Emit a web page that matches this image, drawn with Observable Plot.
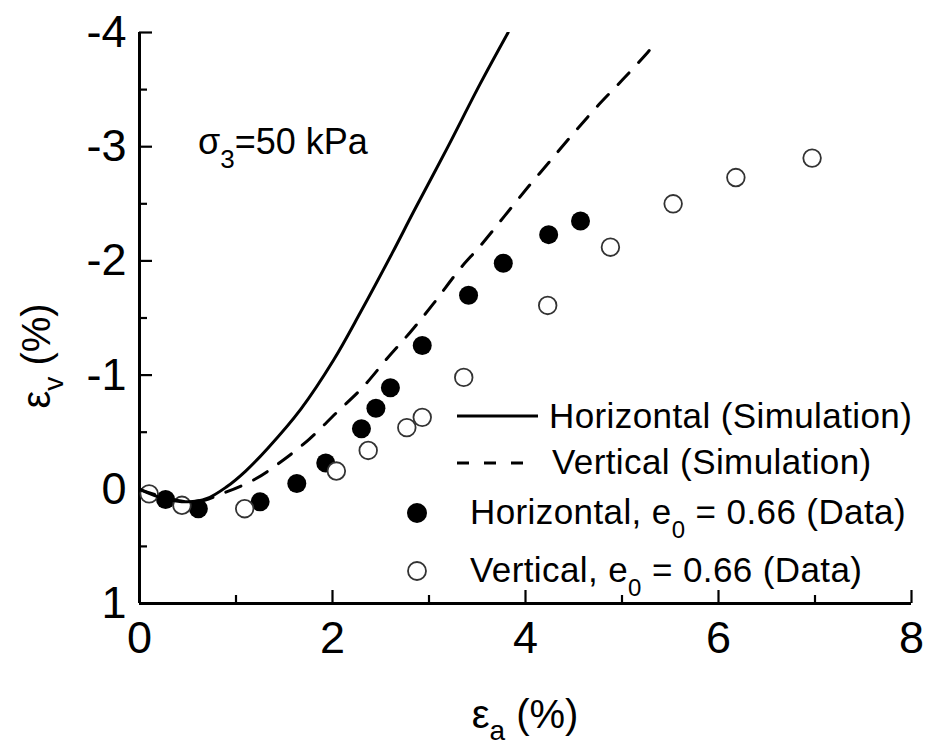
<!DOCTYPE html>
<html><head><meta charset="utf-8">
<script src="https://cdn.jsdelivr.net/npm/d3@7"></script>
<script src="https://cdn.jsdelivr.net/npm/@observablehq/plot@0.6"></script>
<style>body{margin:0;background:#fff;}</style>
</head><body><div id="chart"></div>
<script>
// ---- data ----
const xTicks = [0, 2, 4, 6, 8];
const xMinor = [1, 3, 5, 7];
const yTicks = [-4, -3, -2, -1, 0, 1];
const yMinor = [-3.5, -2.5, -1.5, -0.5, 0.5];

const simHorizontalX = [0, 0.25, 0.5, 0.7, 0.9, 1.1, 1.33, 1.67, 2.01, 2.29, 2.62, 2.84, 3.19, 3.53, 3.82];
const simHorizontalY = [0, 0.08, 0.11, 0.08, -0.02, -0.16, -0.36, -0.70, -1.13, -1.55, -2.07, -2.43, -2.99, -3.55, -4.0];
const simVerticalX = [0, 0.3, 0.6, 0.85, 1.2, 1.48, 1.76, 2.04, 2.31, 2.57, 2.81, 3.05, 3.32, 3.53, 3.78, 4.02, 4.25, 4.49, 4.74, 5.01, 5.27, 5.35];
const simVerticalY = [0, 0.08, 0.11, 0.04, -0.09, -0.25, -0.44, -0.67, -0.89, -1.15, -1.38, -1.63, -1.93, -2.13, -2.39, -2.64, -2.87, -3.11, -3.35, -3.59, -3.83, -3.91];
const dataHorizontalX = [0.27, 0.61, 1.25, 1.63, 1.93, 2.30, 2.45, 2.60, 2.93, 3.41, 3.77, 4.24, 4.57];
const dataHorizontalY = [0.09, 0.17, 0.11, -0.05, -0.23, -0.53, -0.71, -0.89, -1.26, -1.70, -1.98, -2.23, -2.35];
const dataVerticalX = [0.10, 0.44, 1.09, 2.04, 2.37, 2.77, 2.93, 3.36, 4.23, 4.88, 5.53, 6.18, 6.97];
const dataVerticalY = [0.04, 0.14, 0.17, -0.16, -0.34, -0.54, -0.63, -0.98, -1.61, -2.12, -2.50, -2.73, -2.90];

const zip = (xs, ys) => xs.map((x, i) => ({x, y: ys[i]}));
const simH = zip(simHorizontalX, simHorizontalY);
const simV = zip(simVerticalX, simVerticalY);
const datH = zip(dataHorizontalX, dataHorizontalY);
const datV = zip(dataVerticalX, dataVerticalY);

// ---- layout ----
const W = 928, H = 747, mL = 139, mR = 17, mT = 32, mB = 144;
const pw = W - mL - mR, ph = H - mT - mB;
const font = "'Liberation Sans', Arial, Helvetica, sans-serif";

const plot = Plot.plot({
  width: W, height: H,
  marginLeft: mL, marginRight: mR, marginTop: mT, marginBottom: mB,
  style: {fontFamily: font, background: "white", color: "black", overflow: "visible"},
  x: {domain: [0, 8]},
  y: {domain: [1, -4]},
  marks: [
    Plot.axisX(xTicks, {tickSize: 0, tickPadding: 18, fontSize: 45, tickFormat: d => String(d), label: null}),
    Plot.axisY(yTicks, {tickSize: 0, tickPadding: 13, fontSize: 45, tickFormat: d => String(d), label: null}),
    Plot.tickX(xTicks, {x: d => d, insetTop: ph - 13, strokeWidth: 2.2, stroke: "black"}),
    Plot.tickX(xMinor, {x: d => d, insetTop: ph - 8, strokeWidth: 2.2, stroke: "black"}),
    Plot.tickY(yTicks, {y: d => d, insetRight: pw - 13, strokeWidth: 2.2, stroke: "black"}),
    Plot.tickY(yMinor, {y: d => d, insetRight: pw - 8, strokeWidth: 2.2, stroke: "black"}),
    Plot.ruleX([0], {strokeWidth: 3, stroke: "black"}),
    Plot.ruleY([1], {strokeWidth: 3, stroke: "black"}),
    Plot.dot(datH, {x: "x", y: "y", r: 9.5, fill: "black", stroke: "none"}),
    Plot.dot(datV, {x: "x", y: "y", r: 8.8, fill: "white", stroke: "#333", strokeWidth: 1.8}),
    Plot.line(simH, {x: "x", y: "y", stroke: "black", strokeWidth: 3, curve: "catmull-rom", clip: true}),
    Plot.line(simV, {x: "x", y: "y", stroke: "black", strokeWidth: 3, strokeDasharray: "16,14", curve: "catmull-rom", clip: true})
  ]
});

// ---- labels, annotation, legend ----
const svg = d3.select(plot);
const g = svg.append("g").attr("font-family", font).attr("fill", "black").attr("text-anchor", "start");

function subText(sel, parts) {
  parts.forEach(([t, size, dy]) => {
    sel.append("tspan").attr("font-size", size).attr("dy", dy).text(t);
  });
  return sel;
}

// x axis label
subText(g.append("text").attr("x", 525).attr("y", 728).attr("text-anchor", "middle"),
  [["ε", 40, 0], ["a", 28, 12], [" (%)", 40, -12]]);
// y axis label
subText(g.append("text").attr("transform", "translate(50,356) rotate(-90)").attr("text-anchor", "middle"),
  [["ε", 40, 0], ["v", 28, 13], [" (%)", 40, -13]]);
// annotation
subText(g.append("text").attr("x", 198).attr("y", 154),
  [["σ", 36, 0], ["3", 26, 14], ["=50 kPa", 36, -14]]);

// legend
const lf = 35, ls = 0.4, sf = 24;
g.append("line").attr("x1", 457).attr("x2", 538).attr("y1", 416).attr("y2", 416)
  .attr("stroke", "black").attr("stroke-width", 3);
g.append("text").attr("x", 549).attr("y", 428).attr("font-size", lf).attr("letter-spacing", ls).text("Horizontal (Simulation)");
g.append("line").attr("x1", 457).attr("x2", 538).attr("y1", 463).attr("y2", 463)
  .attr("stroke", "black").attr("stroke-width", 3).attr("stroke-dasharray", "12,15");
g.append("text").attr("x", 552).attr("y", 474).attr("font-size", lf).attr("letter-spacing", ls).text("Vertical (Simulation)");
g.append("circle").attr("cx", 417).attr("cy", 513).attr("r", 10).attr("fill", "black");
subText(g.append("text").attr("x", 470).attr("y", 524).attr("letter-spacing", ls),
  [["Horizontal, e", lf, 0], ["0", sf, 14], [" = 0.66 (Data)", lf, -14]]);
g.append("circle").attr("cx", 417).attr("cy", 571).attr("r", 9).attr("fill", "white")
  .attr("stroke", "#333").attr("stroke-width", 1.8);
subText(g.append("text").attr("x", 470).attr("y", 582).attr("letter-spacing", ls),
  [["Vertical, e", lf, 0], ["0", sf, 14], [" = 0.66 (Data)", lf, -14]]);

document.getElementById("chart").appendChild(plot);
</script>
</body></html>
